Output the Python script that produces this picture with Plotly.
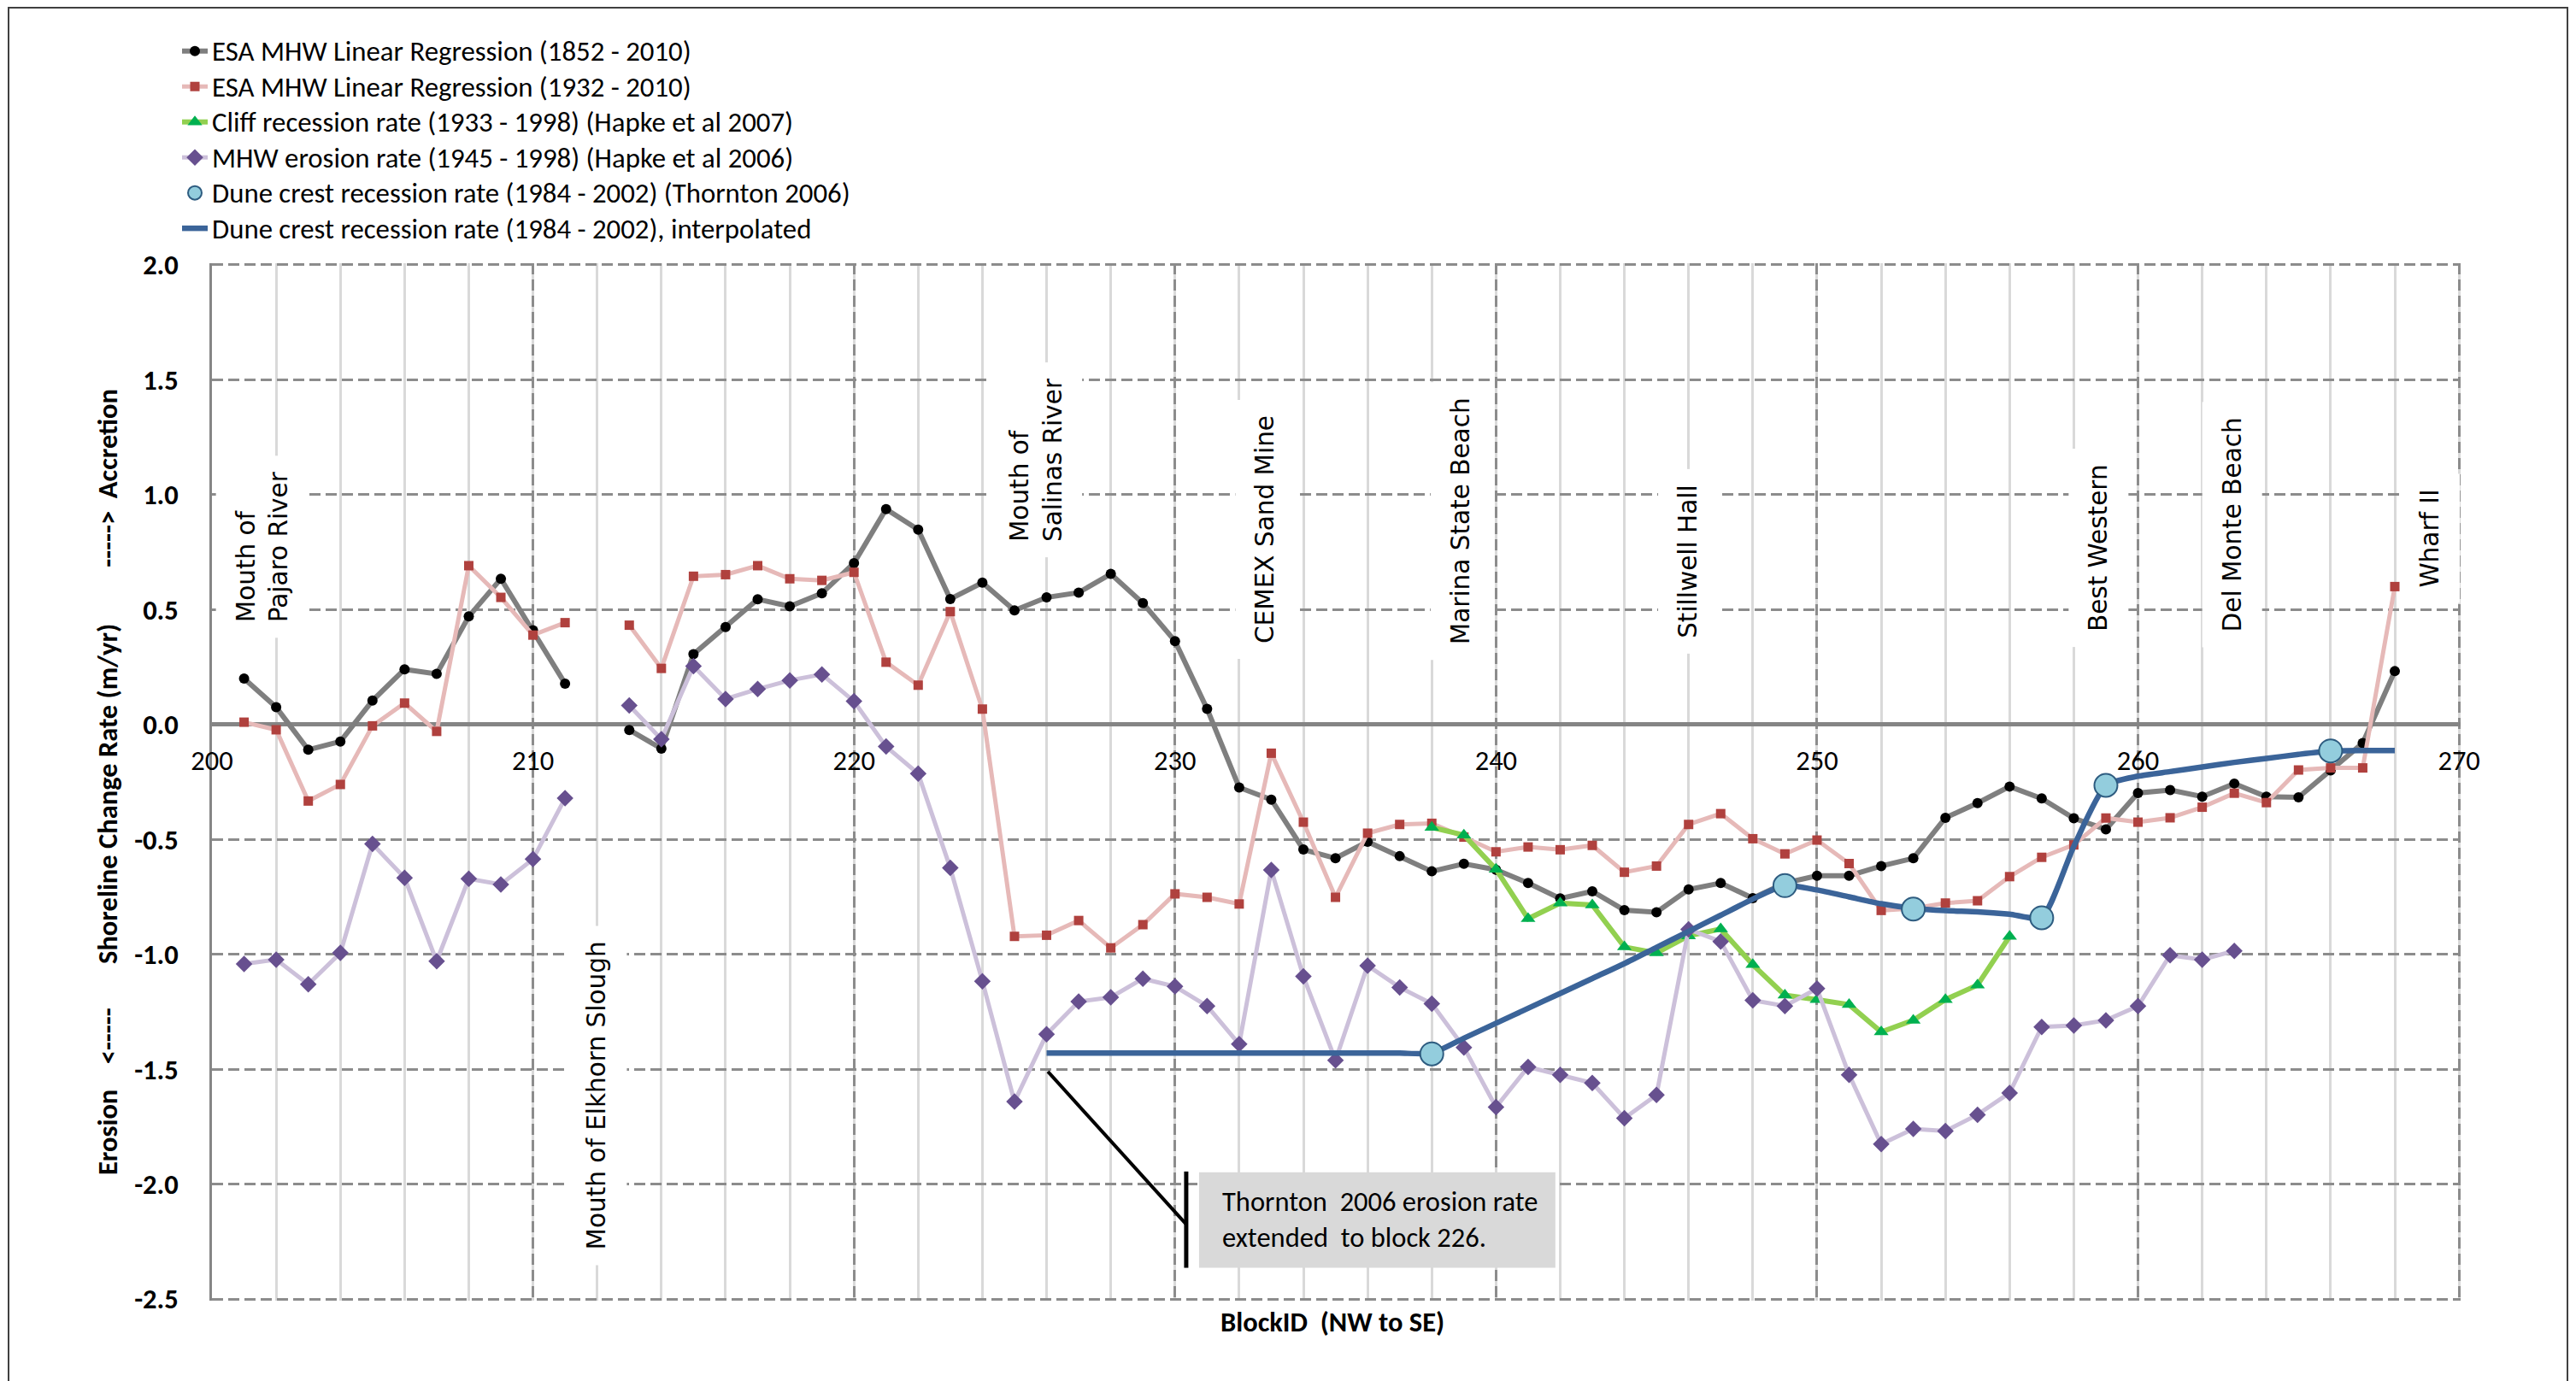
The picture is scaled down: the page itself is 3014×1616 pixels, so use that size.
import plotly.graph_objects as go

# ---------------- data ----------------
blocks_esa = list(range(201, 269))
esa_1852_2010 = [
    0.20, 0.075, -0.11, -0.074, 0.104, 0.24, 0.22, 0.47, 0.634, 0.41, 0.178, None,
    -0.024, -0.105, 0.306, 0.424, 0.545, 0.514, 0.571, 0.702, 0.937, 0.848, 0.546,
    0.617, 0.496, 0.553, 0.574, 0.655, 0.528, 0.363, 0.068, -0.274, -0.327, -0.544,
    -0.582, -0.510, -0.573, -0.639, -0.606, -0.632, -0.690, -0.757, -0.726, -0.808,
    -0.817, -0.718, -0.690, -0.756, -0.69, -0.658, -0.658, -0.616, -0.582, -0.406,
    -0.342, -0.270, -0.322, -0.408, -0.456, -0.298, -0.285, -0.314, -0.257, -0.314,
    -0.317, -0.20, -0.081, 0.232,
]
esa_1932_2010 = [
    0.01, -0.023, -0.333, -0.261, -0.006, 0.093, -0.03, 0.691, 0.553, 0.389, 0.443, None,
    0.432, 0.244, 0.645, 0.652, 0.691, 0.634, 0.627, 0.662, 0.271, 0.171, 0.491,
    0.067, -0.922, -0.917, -0.853, -0.972, -0.871, -0.737, -0.752, -0.781, -0.125,
    -0.425, -0.752, -0.473, -0.435, -0.430, -0.49, -0.554, -0.533, -0.545, -0.526,
    -0.643, -0.616, -0.435, -0.388, -0.497, -0.563, -0.503, -0.605, -0.809, -0.80,
    -0.777, -0.767, -0.662, -0.578, -0.524, -0.407, -0.425, -0.406, -0.360, -0.299,
    -0.340, -0.198, -0.189, -0.189, 0.60,
]
blocks_cliff = list(range(238, 257))
cliff_hapke_2007 = [
    -0.448, -0.481, -0.630, -0.845, -0.777, -0.785, -0.968, -0.994, -0.92, -0.89,
    -1.045, -1.178, -1.197, -1.219, -1.338, -1.287, -1.197, -1.134, -0.922,
]
blocks_mhw = list(range(201, 264))
mhw_hapke_2006 = [
    -1.042, -1.023, -1.130, -0.994, -0.520, -0.667, -1.030, -0.671, -0.696, -0.586,
    -0.321, None, 0.083, -0.064, 0.254, 0.111, 0.154, 0.192, 0.218, 0.101, -0.096,
    -0.214, -0.624, -1.117, -1.641, -1.348, -1.206, -1.187, -1.106, -1.140, -1.225,
    -1.391, -0.633, -1.096, -1.461, -1.049, -1.144, -1.215, -1.405, -1.665, -1.490,
    -1.524, -1.560, -1.713, -1.612, -0.891, -0.944, -1.20, -1.225, -1.149, -1.524,
    -1.826, -1.760, -1.769, -1.698, -1.603, -1.316, -1.310, -1.287, -1.225, -1.004,
    -1.023, -0.985,
]
dune_blocks = [238, 249, 253, 257, 259, 266]
dune_thornton_2006 = [-1.433, -0.701, -0.803, -0.841, -0.265, -0.115]
blocks_interp = list(range(226, 269))
dune_interpolated = [
    -1.43, -1.43, -1.43, -1.43, -1.43, -1.43, -1.43, -1.43, -1.43, -1.43, -1.43, -1.43,
    -1.43, -1.365, -1.30, -1.235, -1.17, -1.105, -1.04, -0.97, -0.90, -0.83, -0.76,
    -0.70, -0.72, -0.75, -0.78, -0.80, -0.81, -0.815, -0.825, -0.84, -0.53, -0.265,
    -0.225, -0.205, -0.185, -0.165, -0.148, -0.13, -0.115, -0.113, -0.113,
]
x_tick_vals = [200, 210, 220, 230, 240, 250, 260, 270]
x_tick_text = ["200", "210", "220", "230", "240", "250", "260", "270"]
y_tick_vals = [-2.5, -2.0, -1.5, -1.0, -0.5, 0.0, 0.5, 1.0, 1.5, 2.0]
y_tick_text = ["-2.5", "-2.0", "-1.5", "-1.0", "-0.5", "0.0", "0.5", "1.0", "1.5", "2.0"]

# place labels: (text, block, value at bottom of text)
place_labels = [
    ("Mouth of<br>Pajaro River", 201.57, 0.446),
    ("Mouth of Elkhorn Slough", 211.98, -2.284),
    ("Mouth of<br>Salinas River", 225.67, 0.795),
    ("CEMEX Sand Mine", 232.82, 0.353),
    ("Marina State Beach", 238.9, 0.346),
    ("Stillwell Hall", 245.98, 0.375),
    ("Best Western", 258.78, 0.403),
    ("Del Monte Beach", 262.93, 0.403),
    ("Wharf II", 269.1, 0.595),
]

# ---------------- figure ----------------
W, H = 3014, 1616
OFF = 8  # page body margin
X_RANGE = [200, 270.05]
Y_RANGE = [-2.507, 2.007]
ML, MT = 240, 300
PW, PH = 2631, 1214
MR, MB = W - ML - PW, H - MT - PH

def px_x(p):
    return (p - OFF - ML) / PW

def px_y(p):
    return (H - MB - (p - OFF)) / PH

FONT = "Carlito, Lato, sans-serif"
LABEL_FONT = "DejaVu Sans, Verdana, sans-serif"
FS = 32.5
LEG_FS = 29.6

def leg(name):
    return "<span style='font-size:32.8px'>" + name + "</span>"

fig = go.Figure()

fig.add_trace(go.Scatter(
    x=blocks_esa, y=esa_1852_2010, mode="lines+markers",
    name=leg("ESA MHW Linear Regression (1852 - 2010)"),
    line=dict(color="#7f7f7f", width=6),
    marker=dict(symbol="circle", size=12, color="black"),
    legendrank=1,
))
fig.add_trace(go.Scatter(
    x=blocks_esa, y=esa_1932_2010, mode="lines+markers",
    name=leg("ESA MHW Linear Regression (1932 - 2010)"),
    line=dict(color="#E6B9B8", width=5),
    marker=dict(symbol="square", size=11, color="#B0413E"),
    legendrank=2,
))
fig.add_trace(go.Scatter(
    x=blocks_cliff, y=cliff_hapke_2007, mode="lines+markers",
    name=leg("Cliff recession rate (1933 - 1998) (Hapke et al 2007)"),
    line=dict(color="#92D050", width=6),
    marker=dict(symbol="triangle-up", size=15, color="#00B050"),
    legendrank=3,
))
fig.add_trace(go.Scatter(
    x=blocks_mhw, y=mhw_hapke_2006, mode="lines+markers",
    name=leg("MHW erosion rate (1945 - 1998) (Hapke et al 2006)"),
    line=dict(color="#CCC0DA", width=5),
    marker=dict(symbol="diamond", size=15, color="#67508F"),
    legendrank=4,
))
fig.add_trace(go.Scatter(
    x=blocks_interp, y=dune_interpolated, mode="lines",
    name=leg("Dune crest recession rate (1984 - 2002), interpolated"),
    line=dict(color="#3B6499", width=6.5, shape="spline", smoothing=0.6),
    legendrank=6,
))
fig.add_trace(go.Scatter(
    x=dune_blocks, y=dune_thornton_2006, mode="markers",
    name=leg("Dune crest recession rate (1984 - 2002) (Thornton 2006)"),
    marker=dict(symbol="circle", size=27, color="#93CDDD",
                line=dict(color="#2E5C80", width=2)),
    legendrank=5,
))

grid_dash = "13px,6px"
fig.update_xaxes(
    range=X_RANGE, anchor="free",
    position=(0 - Y_RANGE[0]) / (Y_RANGE[1] - Y_RANGE[0]),
    tickmode="array", tickvals=x_tick_vals, ticktext=x_tick_text,
    ticks="", ticklabelstandoff=20,
    tickfont=dict(family=FONT, size=FS, color="black"),
    showgrid=True, gridcolor="#8c8c8c", gridwidth=2.5, griddash=grid_dash,
    minor=dict(dtick=2, tick0=200, showgrid=True, gridcolor="#d9d9d9",
               gridwidth=2.5, griddash="solid"),
    showline=False, zeroline=False, layer="below traces",
)
ytitle = (
    "<b>Erosion" + "\u00a0" * 4 + "<-----" + "\u00a0" * 7
    + "Shoreline Change Rate (m/yr)" + "\u00a0" * 9 + "----->" + "\u00a0" * 2
    + "Accretion</b>"
)
fig.update_yaxes(
    range=Y_RANGE, tickmode="array", tickvals=y_tick_vals, ticktext=y_tick_text,
    ticks="", ticklabelstandoff=30,
    tickfont=dict(family=FONT, size=FS, color="black", weight="bold"),
    showgrid=True, gridcolor="#8c8c8c", gridwidth=2.5, griddash=grid_dash,
    showline=True, linecolor="#868686", linewidth=2.5,
    zeroline=True, zerolinecolor="#858585", zerolinewidth=4.5,
    title=dict(text=ytitle, font=dict(family=FONT, size=FS, color="black"), standoff=10),
    layer="below traces",
)

annotations = []
for text, bx, by in place_labels:
    annotations.append(dict(
        x=bx, y=by, xref="x", yref="y", text=text, textangle=-90,
        showarrow=False, xanchor="center", yanchor="bottom", align="left",
        font=dict(family=LABEL_FONT, size=29.5, color="black"),
        bgcolor="white", borderpad=18, borderwidth=0, yshift=-18,
    ))

annotations.append(dict(
    x=231.43, y=-2.155, xref="x", yref="y", xanchor="left", yanchor="middle",
    text="Thornton\u00a0\u00a02006 erosion rate<br>extended\u00a0\u00a0to block 226.",
    align="left", showarrow=False,
    font=dict(family=FONT, size=FS, color="black"),
))
annotations.append(dict(
    x=px_x(1559), y=px_y(1547), xref="paper", yref="paper",
    text="<b>BlockID\u00a0\u00a0(NW to SE)</b>", showarrow=False,
    xanchor="center", yanchor="middle",
    font=dict(family=FONT, size=FS, color="black"),
))

shapes = [
    dict(type="rect", xref="x", yref="y", x0=230.75, x1=241.85, y0=-2.364, y1=-1.948,
         fillcolor="#D9D9D9", line=dict(width=0), layer="above"),
    dict(type="line", xref="x", yref="y", x0=226.04, y0=-1.51, x1=230.35, y1=-2.175,
         line=dict(color="black", width=4)),
    dict(type="line", xref="x", yref="y", x0=230.35, y0=-1.945, x1=230.35, y1=-2.364,
         line=dict(color="black", width=5)),
    dict(type="rect", xref="paper", yref="paper",
         x0=px_x(10), x1=px_x(3004), y0=px_y(1640), y1=px_y(9),
         line=dict(color="#404040", width=2), fillcolor="rgba(0,0,0,0)"),
]

fig.update_layout(
    width=W, height=H,
    margin=dict(l=ML, r=MR, t=MT, b=MB, autoexpand=False),
    paper_bgcolor="white", plot_bgcolor="white",
    showlegend=True,
    legend=dict(
        x=px_x(208), y=px_y(34), xanchor="left", yanchor="top",
        font=dict(family=FONT, size=LEG_FS, color="black"),
        bgcolor="rgba(0,0,0,0)", borderwidth=0,
    ),
    annotations=annotations, shapes=shapes,
)

fig.write_html("out.html")
